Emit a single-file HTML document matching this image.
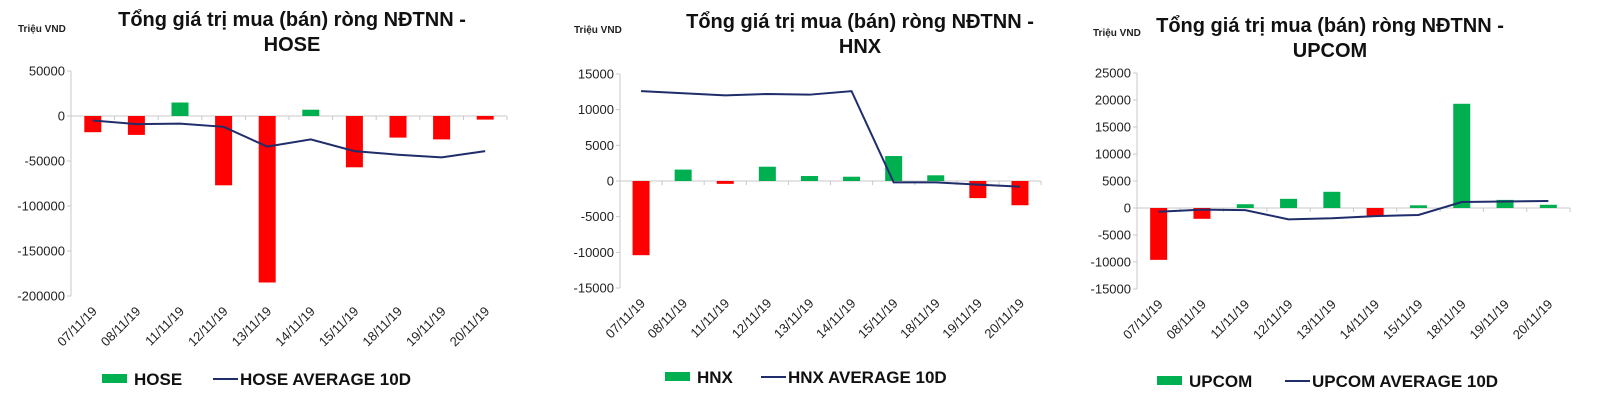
<!DOCTYPE html>
<html><head><meta charset="utf-8">
<style>
body{margin:0;background:#fff;}
svg{display:block;font-family:"Liberation Sans",Arial,sans-serif;}
</style></head>
<body>
<svg id="s" width="1600" height="409" viewBox="0 0 1600 409"></svg>
<script>
const categories=["07/11/19","08/11/19","11/11/19","12/11/19","13/11/19","14/11/19","15/11/19","18/11/19","19/11/19","20/11/19"];
const hoseValues=[-18000,-21000,15000,-77000,-185000,7000,-57000,-24000,-26000,-4000];
const hoseAvg=[-5000,-9000,-8500,-12000,-34000,-26000,-39000,-43000,-46000,-39000];
const hoseTicks=[50000,0,-50000,-100000,-150000,-200000];
const hnxValues=[-10400,1600,-400,2000,700,600,3500,800,-2400,-3400];
const hnxAvg=[12600,12300,12000,12200,12100,12600,-200,-200,-500,-800];
const hnxTicks=[15000,10000,5000,0,-5000,-10000,-15000];
const upcomValues=[-9600,-2000,700,1700,3000,-1500,500,19300,1500,600];
const upcomAvg=[-700,-300,-400,-2100,-1900,-1500,-1300,1100,1200,1300];
const upcomTicks=[25000,20000,15000,10000,5000,0,-5000,-10000,-15000];

const NS="http://www.w3.org/2000/svg";
const svg=document.getElementById('s');
function mk(tag,attrs,parent,text){const e=document.createElementNS(NS,tag);for(const k in attrs)e.setAttribute(k,attrs[k]);if(text!==undefined)e.textContent=text;(parent||svg).appendChild(e);return e;}

function chart(cfg){
  const g=mk('g',{});
  
  
  const ticks=cfg.ticks,vmax=ticks[0],vmin=ticks[ticks.length-1];
  const y=v=>cfg.top+(vmax-v)/(vmax-vmin)*(cfg.bottom-cfg.top);
  const step=(cfg.right-cfg.left)/categories.length;
  const x=i=>cfg.left+step*(i+0.5);
  const t1=mk('text',{x:cfg.tx,y:cfg.ty,'text-anchor':'middle','font-size':20,'font-weight':'bold',fill:'#111'},g,'Tổng giá trị mua (bán) ròng NĐTNN -');
  
  const t2=mk('text',{x:cfg.tx,y:cfg.ty+25,'text-anchor':'middle','font-size':20,'font-weight':'bold',fill:'#111'},g,cfg.label);
  
  const u=mk('text',{x:cfg.ux,y:cfg.uy,'font-size':10,'font-weight':'bold',fill:'#222'},g,'Triệu VND');
  
  const ax=mk('line',{x1:cfg.left,x2:cfg.left,y1:cfg.top,y2:cfg.bottom,stroke:'#c8c8c8'},g);
  
  ticks.forEach(v=>{
    mk('line',{x1:cfg.left-4,x2:cfg.left,y1:y(v),y2:y(v),stroke:'#c8c8c8'},g);
    const tl=mk('text',{x:cfg.left-6,y:y(v)+4.5,'text-anchor':'end','font-size':13,fill:'#222'},g,String(v));
    
  });
  const z=mk('line',{x1:cfg.left,x2:cfg.right,y1:y(0),y2:y(0),stroke:'#c8c8c8'},g);
  
  for(let i=0;i<=categories.length;i++)mk('line',{x1:cfg.left+step*i,x2:cfg.left+step*i,y1:y(0),y2:y(0)+4,stroke:'#c8c8c8'},g);
  cfg.values.forEach((v,i)=>{
    const b=mk('rect',{x:x(i)-8.5,y:Math.min(y(v),y(0)),width:17,height:Math.abs(y(v)-y(0)),fill:v>=0?'#00b050':'#ff0000'},g);
    
    
  });
  const pl=mk('polyline',{points:cfg.avg.map((v,i)=>x(i)+','+y(v)).join(' '),fill:'none',stroke:'#1f2d6b','stroke-width':2},g);
  
  categories.forEach((c,i)=>{
    const lx=x(i)+5,ly=cfg.bottom+16;
    const tl=mk('text',{x:lx,y:ly,'text-anchor':'end','font-size':13,fill:'#222',transform:`rotate(-45 ${lx} ${ly})`},g,c);
    
  });
  const ls=mk('rect',{x:cfg.lg[0],y:cfg.ly-5,width:25,height:9,fill:'#00b050'},g);
  
  const lt=mk('text',{x:cfg.lg[0]+32,y:cfg.ly+6,'font-size':17,'font-weight':'bold',fill:'#111'},g,cfg.label);
  
  const ll=mk('line',{x1:cfg.lg[1],x2:cfg.lg[1]+25,y1:cfg.ly,y2:cfg.ly,stroke:'#1f2d6b','stroke-width':2},g);
  
  const lt2=mk('text',{x:cfg.lg[1]+27,y:cfg.ly+6,'font-size':17,'font-weight':'bold',fill:'#111'},g,cfg.label+' AVERAGE 10D');
  
}
chart({key:'hose',label:'HOSE',values:hoseValues,avg:hoseAvg,ticks:hoseTicks,left:71,right:507,top:71,bottom:296,tx:292,ty:26,ux:18,uy:32,lg:[102,213],ly:379});
chart({key:'hnx',label:'HNX',values:hnxValues,avg:hnxAvg,ticks:hnxTicks,left:620,right:1041,top:74,bottom:288,tx:860,ty:28,ux:574,uy:33,lg:[665,761],ly:377});
chart({key:'upcom',label:'UPCOM',values:upcomValues,avg:upcomAvg,ticks:upcomTicks,left:1137,right:1570,top:73,bottom:289,tx:1330,ty:32,ux:1093,uy:36,lg:[1157,1285],ly:381});
</script>
</body></html>
